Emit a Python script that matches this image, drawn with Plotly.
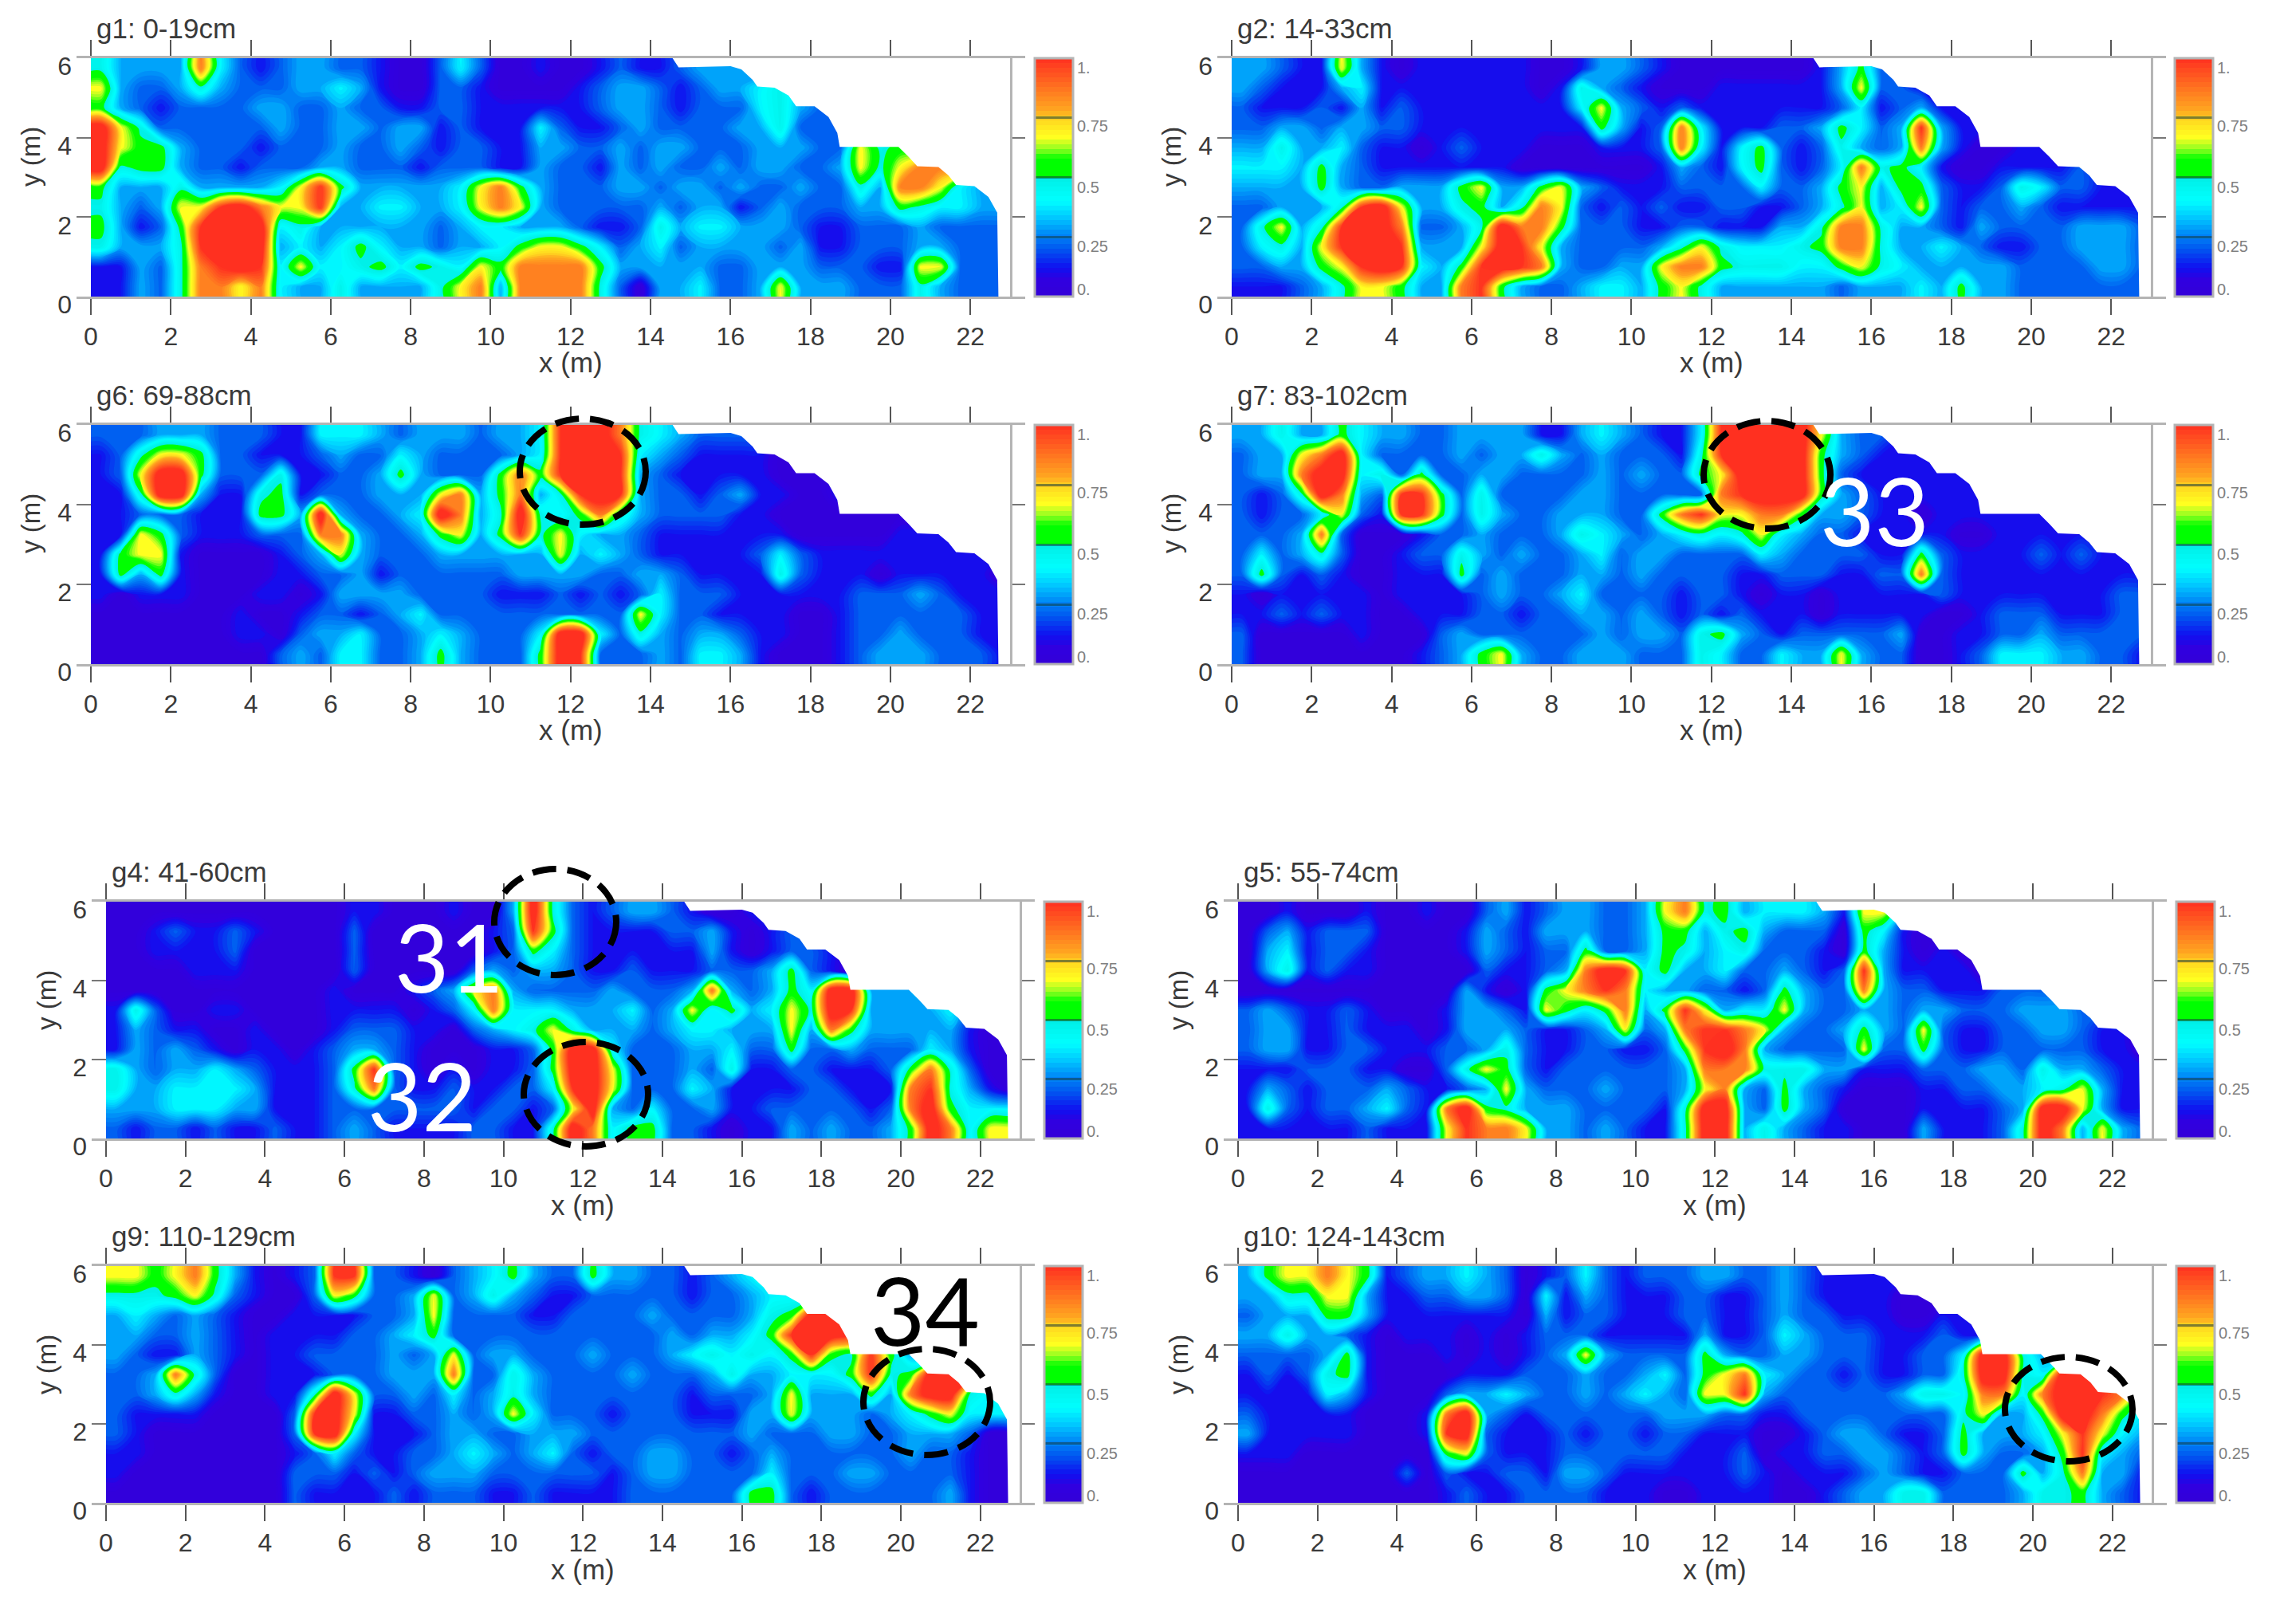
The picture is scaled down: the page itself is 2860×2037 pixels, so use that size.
import numpy as np
import plotly.graph_objects as go

W, H = 2860, 2037

# each row is y = 5.75 ... 0.25, each char a 0.5 m cell, read as a level (see LEVELS)
G1 = [
    "5333384212 3322100242 0010012112 3332222222 222222",
    "7322353222 3343100221 0000123321 2334532222 222222",
    "6321222233 2232211221 1111123321 2224532222 222222",
    "A752222223 2233233121 1142112322 2233522222 222222",
    "A766322212 2232232122 1133223233 2223332275 654444",
    "A566322122 2332221222 1132213232 2323322375 788888",
    "6333533334 7963333347 8632223323 3232232253 887433",
    "5323779A87 7933443347 8732222232 3312322233 654433",
    "631269AAA4 5333333234 4333211253 4433321122 232222",
    "533359AAA3 4346433233 4677642342 3333231122 233222",
    "1132589A94 7445646547 6888863333 3223332221 177222",
    "1132588784 3353333578 3888852033 4223733322 253222",
]
G2 = [
    "3321173101 1111100133 2100000001 3622111111 111111",
    "3211134111 1111101532 1000111111 3722111111 111111",
    "2111213121 1111111473 2121111111 2412311111 111111",
    "2233233221 1111111163 1284111223 6423931111 111111",
    "3353342110 1211100011 1284146212 5323831001 101111",
    "4443632111 1111000000 0132146212 4856410011 112111",
    "3333632233 3673367321 1122224223 6736621125 422111",
    "2233359A73 3563587212 1211221123 5734721223 211111",
    "257359AA82 235A886222 1122111335 8853321322 223332",
    "245379AA93 337A973222 2357544456 8853343211 223332",
    "2233679A94 369A983223 3788655544 6754333332 222332",
    "1112357763 3896322344 3675333333 2333436332 222222",
]
G6 = [
    "2223332221 1444323332 3349AA8543 2222111111 111111",
    "1257762211 1232243222 2349AA9432 1111000000 000000",
    "127AA62225 1122363222 6869AA9321 1111000111 111111",
    "115AA31156 1222333783 68359A9322 1231100111 111111",
    "1122211166 3A32234A83 5A54685322 2211000000 000000",
    "1176211122 2883223673 6957433211 1111100000 111111",
    "1677100001 2373222333 3337343211 1112421111 111111",
    "1636100001 1223122222 2333322332 1111521110 111110",
    "1011100011 0133332222 1112121242 2211111122 232111",
    "0000000100 1221234222 2222222742 2111100122 222211",
    "0000000110 2334223432 224AA42532 3321100122 322211",
    "0000000002 3244223632 226A922232 4431000123 332221",
]
G7 = [
    "3353364332 2333311343 21149AAAA7 3221111111 111111",
    "23378A4222 2323353232 22159AAAA6 3211111111 111111",
    "2338AA4526 2233222232 32267AAAA6 2111111111 111111",
    "2125A83299 6252222332 222289AAA6 3211111111 111111",
    "2122472199 6253223332 2689778863 3211011111 111111",
    "2223820001 2232223543 2345457432 2111110011 111111",
    "2423520012 2532322342 3322224322 2211621111 212111",
    "2621210011 1623222332 3222211222 1122821111 111111",
    "1011111011 1123223422 2212210110 1111121111 111122",
    "1121211001 1122122332 3212121110 1111100122 211122",
    "2000001000 2322222232 3325632122 2223001122 322222",
    "2000000001 2367322333 2225422433 7322001244 433221",
]
G4 = [
    "0000000000 0011000100 3A52123321 0011111111 111111",
    "0012112100 0020000001 2962111122 3101210000 000000",
    "0011112000 0020000001 2642111111 3101221000 000000",
    "0000111000 0020000023 2332112111 2223621022 111111",
    "0000000000 0100012378 3222232223 832364AA33 343222",
    "1520011000 0111101248 4443334237 463475A933 334222",
    "1321100100 0122211023 4575333234 4333738633 333100",
    "1323210110 1233210001 126AA42223 3422622322 243100",
    "5323343211 1269210101 126AA72223 2511221112 685200",
    "5334444311 1258211211 2249A72224 3111122111 895310",
    "3334443311 1222222212 2127A32422 3112222212 8A6444",
    "2122121121 1232111122 115A846622 1011323223 6A8477",
]
G5 = [
    "0010001001 0023123322 3785634443 1773322222 222222",
    "0231222000 0132133322 3663563222 0641000000 000000",
    "0341221000 0132122622 3653452221 0631010000 000000",
    "0351211000 00211238A9 4633422321 2931111000 000000",
    "0000000000 0310167898 4332212632 2832211122 222111",
    "2321121000 1332176468 3697344732 2332332223 332222",
    "2331121110 1333211237 2389987322 3632721122 332110",
    "2331122111 2235211221 1269A83222 2722621122 222110",
    "1112221100 2576212222 2238885553 3111222332 533211",
    "1321222321 1237322232 2237832632 1000112233 457311",
    "1521223421 8A65333222 215AA32632 0000111123 AA7311",
    "1111112111 7988733232 115AA35321 1000311125 A83732",
]
G9 = [
    "7767863101 2992210234 6322633221 2344333333 333333",
    "5556752100 2762237235 3211222221 2234433333 333333",
    "3432321001 1112237222 2112222322 22356AA844 444444",
    "3322321011 1122346222 2222222232 33469AA944 444444",
    "3211321011 2222323723 3222322234 5454696596 315555",
    "2238520011 1222333822 5322223222 3533444695 6AA944",
    "2235310011 5A72232423 5322222221 2223733363 8AA544",
    "2111100002 9A71122323 7422212221 1133733323 467444",
    "2100000002 9A41112332 2333222222 2232223322 333200",
    "1100000001 2421122343 2342122332 2123222222 322100",
    "1000000002 2212123332 2222212332 2224222332 222100",
    "0000000002 1111212221 1211112222 2266212222 223100",
]
G10 = [
    "3677876123 3432012421 2223322321 1111111111 111111",
    "3355773112 2332041321 1122112321 1110000000 000000",
    "2333663111 1111031221 1122112322 1110011111 111111",
    "3353321011 1010122211 1113112432 2211121111 111111",
    "2222361000 1010123732 2226322332 2211224AA5 325555",
    "1212561000 0111222322 3426784322 1211225AA5 4AA855",
    "1111431000 2334322323 4327793222 2223554884 8AA985",
    "2111110001 8A32122222 2333221122 2222225733 6AA864",
    "3111110001 9A21112122 1221110012 3321126333 479743",
    "1110000000 6721112222 2211120112 2332126322 369432",
    "0000000020 2112213321 1111121011 1232112226 358331",
    "0000000000 1211222211 1001111001 2335522223 556321",
]

TITLES = ["g1: 0-19cm", "g2: 14-33cm", "g6: 69-88cm", "g7: 83-102cm",
          "g4: 41-60cm", "g5: 55-74cm", "g9: 110-129cm", "g10: 124-143cm"]
GRIDS = [G1, G2, G6, G7, G4, G5, G9, G10]

# value of each grid character 0-9, A
LEVELS = [0.03, 0.12, 0.21, 0.3, 0.39, 0.47, 0.54, 0.68, 0.86, 1.0, 1.1]

EDGE_X = [14.55, 14.7, 16.0, 16.27, 16.55, 16.67, 17.1, 17.45, 17.64, 18.1, 18.45, 18.67,
          18.73, 20.2, 20.45, 20.67, 21.2, 21.45, 21.64, 22.1, 22.45, 22.67, 22.7]
EDGE_Y = [6.0, 5.77, 5.8, 5.72, 5.46, 5.29, 5.26, 5.06, 4.79, 4.79, 4.52, 4.12,
          3.77, 3.77, 3.52, 3.28, 3.26, 3.05, 2.81, 2.78, 2.51, 2.11, 0]

CB_VALS = [0, 0.25, 0.5, 0.75, 1]
CB_TEXT = ["0.", "0.25", "0.5", "0.75", "1."]
# the reference prints these a little off their ticks
CB_TEXT_SHIFT = [-9, 12, 12, 10, 12]
X_TICKS = list(range(0, 23, 2))
Y_TICKS = [0, 2, 4, 6]

SCALE = [
    [0.0, "#3300d8"], [0.07, "#3000e0"], [0.12, "#1010f0"], [0.2, "#0058f0"],
    [0.27, "#0090f8"], [0.33, "#00c8ff"], [0.4, "#00ffff"], [0.49, "#00f0e8"],
    [0.51, "#00ff00"], [0.58, "#00ff00"], [0.62, "#90ff20"], [0.67, "#ffff20"],
    [0.74, "#ffd820"], [0.78, "#ffa820"], [0.88, "#ff7020"], [1.0, "#ff3020"],
]

# pixel frame of each panel: x=0, px per m, top (y=6), bottom (y=0), colorbar left
FRAMES = [
    (114, 50.15, 73, 372, 1298), (1545, 50.15, 73, 372, 2728),
    (114, 50.15, 533, 833, 1298), (1545, 50.15, 533, 833, 2728),
    (133, 49.85, 1131, 1428, 1310), (1553, 49.85, 1131, 1428, 2730),
    (133, 49.85, 1588, 1885, 1310), (1553, 49.85, 1588, 1885, 2730),
]
X_MIN, X_MAX, FRAME_X = -0.36, 23.37, 23.02

GRAY = "#b4b4b4"
TXT = "#3a3a3a"
FONT = "Liberation Sans"


def px(x):
    return x / W


def py(y):
    return 1 - y / H


def parse(rows):
    z = []
    for row in rows:
        cells = row.replace(" ", "")
        if len(cells) != 46:
            raise ValueError(row)
        z.append([LEVELS[int(c, 16)] for c in cells])
    z = np.array(z[::-1])
    # repeat the outer cells so the contours reach the frame
    return np.pad(z, 1, mode="edge")


x_nodes = [0] + [0.25 + 0.5 * k for k in range(46)] + [23]
y_nodes = [0] + [0.25 + 0.5 * k for k in range(12)] + [6]

fig = go.Figure()
layout = {}
annotations = []
shapes = []

for i, (rows, title, frame) in enumerate(zip(GRIDS, TITLES, FRAMES)):
    n = i + 1
    x0, pm, top, bottom, cb = frame
    xa, ya = f"x{n}", f"y{n}"
    fig.add_trace(go.Contour(
        x=x_nodes, y=y_nodes, z=parse(rows), xaxis=xa, yaxis=ya,
        zmin=0, zmax=1, autocontour=False, colorscale=SCALE, hoverinfo="skip",
        contours=dict(coloring="fill", start=0, end=1, size=0.02, showlines=False),
        line=dict(width=0, smoothing=1.0),
        colorbar=dict(
            x=px(cb), xanchor="left", y=py((top + bottom) / 2), yanchor="middle",
            thicknessmode="pixels", thickness=48, lenmode="pixels", len=bottom - top,
            xpad=0, ypad=0, outlinecolor=GRAY, outlinewidth=3,
            tickmode="array", tickvals=CB_VALS, showticklabels=False,
            ticks="inside", ticklen=48, tickwidth=3, tickcolor="rgba(20,60,60,0.55)",
        ),
    ))
    for val, text, shift in zip(CB_VALS, CB_TEXT, CB_TEXT_SHIFT):
        annotations.append(dict(
            text=text, xref="paper", yref="paper", x=px(cb + 51),
            y=py(bottom - val * (bottom - top) + shift), xanchor="left", yanchor="middle",
            showarrow=False, font=dict(family=FONT, size=20, color="#808080")))
    # blank out the part of the rectangle outside the surveyed area
    fig.add_trace(go.Scatter(
        x=EDGE_X + [23.01, 23.01], y=EDGE_Y + [0, 6], xaxis=xa, yaxis=ya,
        mode="lines", line=dict(width=0), fill="toself", fillcolor="white",
        hoverinfo="skip", showlegend=False,
    ))
    layout[f"xaxis{n}"] = dict(
        domain=[px(x0 + X_MIN * pm), px(x0 + X_MAX * pm)], range=[X_MIN, X_MAX],
        anchor=ya, tickmode="array", tickvals=X_TICKS, showgrid=False, zeroline=False,
        showline=True, linecolor=GRAY, linewidth=3, mirror="ticks",
        ticks="outside", ticklen=20, tickwidth=2, tickcolor="#555555",
        ticklabelstandoff=0, tickfont=dict(family=FONT, size=32, color=TXT),
    )
    layout[f"yaxis{n}"] = dict(
        domain=[py(bottom), py(top)], range=[0, 6], anchor=xa,
        tickmode="array", tickvals=Y_TICKS, showgrid=False, zeroline=False,
        showline=False, mirror="ticks", ticks="inside", ticklen=18, tickwidth=2,
        tickcolor="#777777", ticklabelshift=10, ticklabelstandoff=5,
        tickfont=dict(family=FONT, size=32, color=TXT),
    )
    shapes.append(dict(type="line", xref=xa, yref=ya, x0=FRAME_X, x1=FRAME_X, y0=0, y1=6,
                       line=dict(color=GRAY, width=3)))
    annotations.append(dict(text=title, xref="paper", yref="paper", x=px(x0 + 5), y=py(top - 38),
                            xanchor="left", yanchor="middle", showarrow=False,
                            font=dict(family=FONT, size=35, color=TXT)))
    annotations.append(dict(text="x (m)", xref="paper", yref="paper", x=px(x0 + 12 * pm), y=py(bottom + 83),
                            xanchor="center", yanchor="middle", showarrow=False,
                            font=dict(family=FONT, size=35, color=TXT)))
    annotations.append(dict(text="y (m)", xref="paper", yref="paper", x=px(x0 - 75), y=py(top + 124),
                            xanchor="center", yanchor="middle", showarrow=False, textangle=-90,
                            font=dict(family=FONT, size=33, color=TXT)))

# dashed rings and site numbers drawn over the maps
RINGS = [(652, 525, 810, 658), (2137, 528, 2296, 663), (620, 1090, 773, 1223),
         (657, 1307, 813, 1438), (1083, 1692, 1242, 1825), (2515, 1702, 2675, 1833)]
for a, b, c, d in RINGS:
    shapes.append(dict(type="circle", xref="paper", yref="paper", x0=px(a), x1=px(c), y0=py(d), y1=py(b),
                       line=dict(color="black", width=8, dash="30px,14px")))

LABELS = [("33", 2351, 639, "white"), ("31", 563, 1199, "white"),
          ("32", 529, 1373, "white"), ("34", 1160, 1642, "black")]
for text, lx, ly, col in LABELS:
    annotations.append(dict(text=text, xref="paper", yref="paper", x=px(lx), y=py(ly),
                            xanchor="center", yanchor="middle", showarrow=False,
                            font=dict(family="Lato", size=118, color=col)))

fig.update_layout(
    width=W, height=H, margin=dict(l=0, r=0, t=0, b=0, autoexpand=False),
    paper_bgcolor="white", plot_bgcolor="white", showlegend=False,
    annotations=annotations, shapes=shapes, **layout,
)

fig.write_html("out.html", config={"displayModeBar": False},
               post_script="document.body.style.margin='0';")
